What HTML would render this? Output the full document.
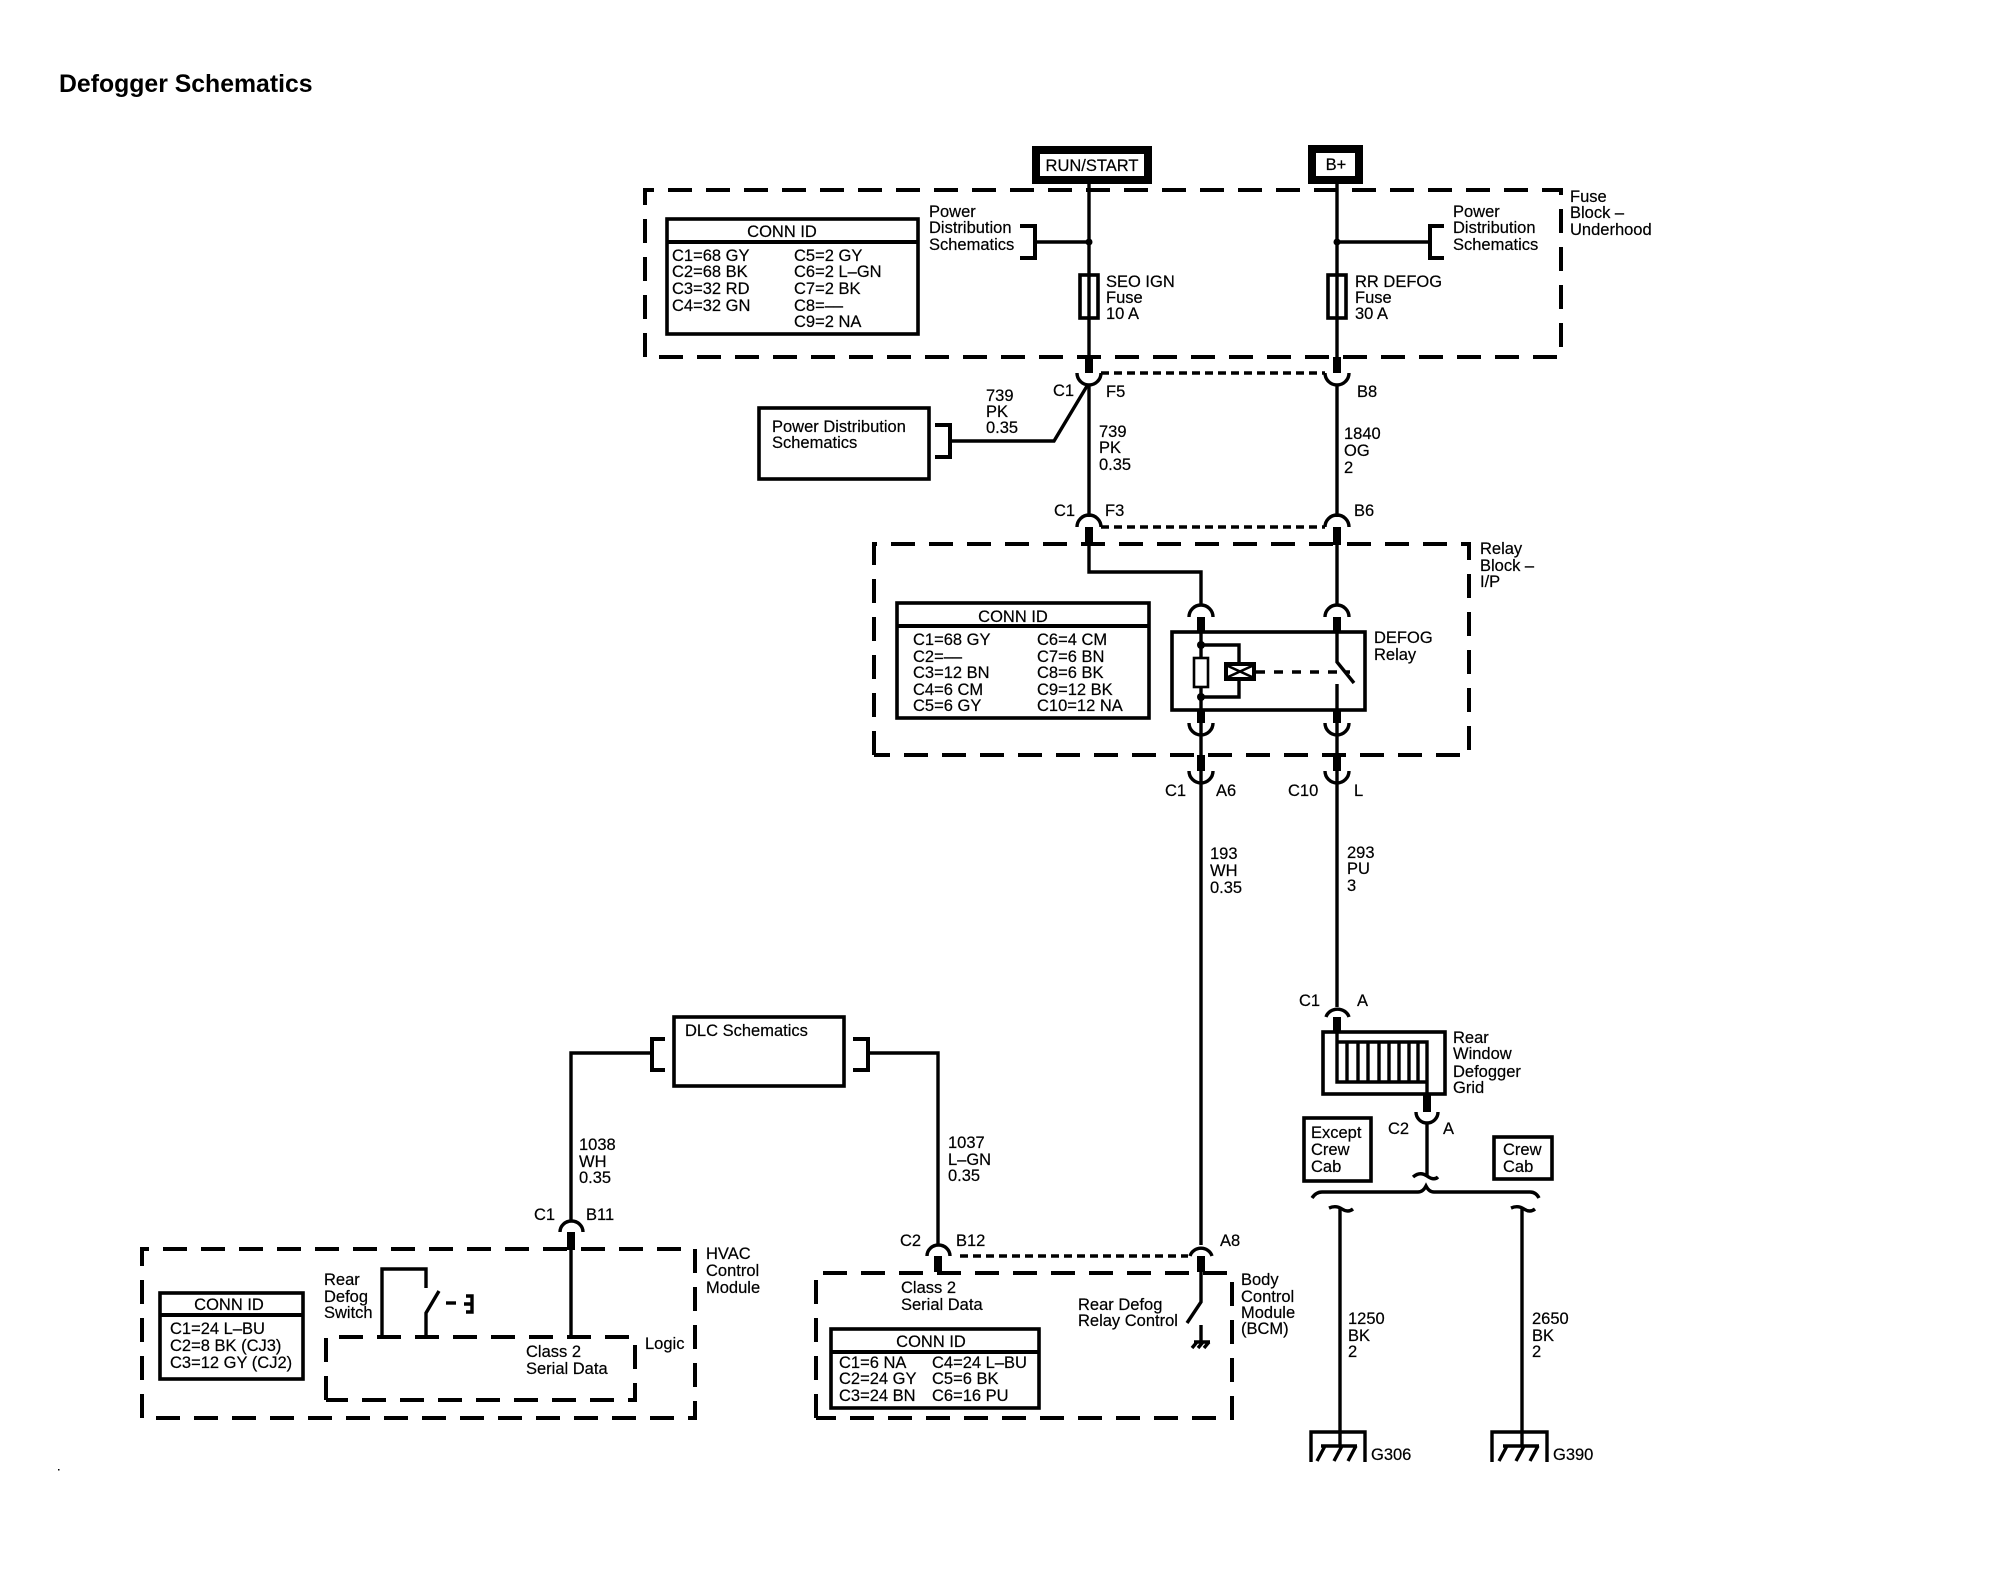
<!DOCTYPE html>
<html><head><meta charset="utf-8"><title>Defogger Schematics</title>
<style>
html,body{margin:0;padding:0;background:#fff}
svg{display:block}
text{font-family:"Liberation Sans",sans-serif;font-size:16.5px;fill:#000;stroke:#000;stroke-width:.2}
.c{text-anchor:middle}
.w{fill:none;stroke:#000;stroke-width:3.4}
.t{fill:none;stroke:#000;stroke-width:8}
.b{fill:#fff;stroke:#000;stroke-width:3.6}
.d{fill:none;stroke:#000;stroke-width:4;stroke-dasharray:24 14}
.o{fill:none;stroke:#000;stroke-width:3.4;stroke-dasharray:8 5}
.a{fill:none;stroke:#000;stroke-width:3.4}
</style></head><body>
<svg width="2000" height="1584" viewBox="0 0 2000 1584" xmlns="http://www.w3.org/2000/svg">
<rect width="2000" height="1584" fill="#fff"/>
<text x="59" y="92" style="font-size:24.8px;font-weight:bold;stroke-width:0">Defogger Schematics</text>
<rect x="58" y="1469" width="1.5" height="1.5" fill="#000"/>

<!-- dashed containers -->
<path class="d" d="M645 357V190H1561V357H645"/>
<path class="d" d="M874 755V544H1469V755H874"/>
<path class="d" d="M142 1418V1249H695V1418H142"/>
<path class="d" d="M326 1400V1337H635V1400H326"/>
<path class="d" d="M816 1418V1273H1232V1418H816"/>

<!-- source boxes -->
<rect x="1036" y="150" width="112" height="30" fill="#fff" stroke="#000" stroke-width="8"/>
<rect x="1312" y="149" width="47" height="31" fill="#fff" stroke="#000" stroke-width="8"/>
<text class="c" x="1092" y="171">RUN/START</text>
<text class="c" x="1336" y="170">B+</text>

<!-- main wires -->
<path class="w" d="M1089 184V373M1337 184V373M1089 385V517M1337 385V517M1089 527V572H1201V605M1337 527V605"/>
<path class="t" d="M1089 357V373M1337 357V373M1089 527V545M1337 527V545"/>
<path class="o" d="M1101 373H1325M1101 527H1325"/>
<path class="a" d="M1077 373A12 12 0 0 0 1101 373M1325 373A12 12 0 0 0 1349 373M1077 527A12 12 0 0 1 1101 527M1325 527A12 12 0 0 1 1349 527"/>

<!-- fuse block contents -->
<path class="w" d="M1035 242H1089M1337 242H1429"/>
<path class="w" style="stroke-width:4" d="M1020 226H1035V258H1020M1444 226H1430V258H1444"/>
<circle cx="1089" cy="242" r="3.5"/><circle cx="1337" cy="242" r="3.5"/>
<rect class="b" x="1080" y="275" width="18" height="43"/>
<rect class="b" x="1328" y="275" width="18" height="43"/>
<path class="w" d="M1089 274V318M1337 274V318"/>
<rect class="b" x="667" y="219" width="251" height="115"/>
<path class="w" style="stroke-width:4" d="M667 242H918"/>
<text class="c" x="782" y="237">CONN ID</text>
<text x="672" y="261">C1=68 GY</text><text x="672" y="277">C2=68 BK</text><text x="672" y="294">C3=32 RD</text><text x="672" y="311">C4=32 GN</text>
<text x="794" y="261">C5=2 GY</text><text x="794" y="277">C6=2 L–GN</text><text x="794" y="294">C7=2 BK</text><text x="794" y="311">C8=––</text><text x="794" y="327">C9=2 NA</text>
<text x="929" y="217">Power</text><text x="929" y="233">Distribution</text><text x="929" y="250">Schematics</text>
<text x="1453" y="217">Power</text><text x="1453" y="233">Distribution</text><text x="1453" y="250">Schematics</text>
<text x="1570" y="202">Fuse</text><text x="1570" y="218">Block –</text><text x="1570" y="235">Underhood</text>
<text x="1106" y="287">SEO IGN</text><text x="1106" y="303">Fuse</text><text x="1106" y="319">10 A</text>
<text x="1355" y="287">RR DEFOG</text><text x="1355" y="303">Fuse</text><text x="1355" y="319">30 A</text>

<!-- connector labels upper -->
<text x="1053" y="396">C1</text><text x="1106" y="397">F5</text><text x="1357" y="397">B8</text>
<text x="1054" y="516">C1</text><text x="1105" y="516">F3</text><text x="1354" y="516">B6</text>
<text x="986" y="401">739</text><text x="986" y="417">PK</text><text x="986" y="433">0.35</text>
<text x="1099" y="437">739</text><text x="1099" y="453">PK</text><text x="1099" y="470">0.35</text>
<text x="1344" y="439">1840</text><text x="1344" y="456">OG</text><text x="1344" y="473">2</text>

<!-- power dist box -->
<rect class="b" x="759" y="408" width="170" height="71"/>
<text x="772" y="432">Power Distribution</text><text x="772" y="448">Schematics</text>
<path class="w" style="stroke-width:4" d="M935 425H950V457H935"/>
<path class="w" d="M950 441H1054L1087 386"/>

<!-- relay block -->
<rect class="b" x="897" y="603" width="252" height="115"/>
<path class="w" style="stroke-width:4" d="M897 626H1149"/>
<text class="c" x="1013" y="622">CONN ID</text>
<text x="913" y="645">C1=68 GY</text><text x="913" y="662">C2=––</text><text x="913" y="678">C3=12 BN</text><text x="913" y="695">C4=6 CM</text><text x="913" y="711">C5=6 GY</text>
<text x="1037" y="645">C6=4 CM</text><text x="1037" y="662">C7=6 BN</text><text x="1037" y="678">C8=6 BK</text><text x="1037" y="695">C9=12 BK</text><text x="1037" y="711">C10=12 NA</text>
<text x="1480" y="554">Relay</text><text x="1480" y="571">Block –</text><text x="1480" y="587">I/P</text>
<rect class="b" x="1172" y="632" width="193" height="78"/>
<text x="1374" y="643">DEFOG</text><text x="1374" y="660">Relay</text>
<path class="a" d="M1189 617A12 12 0 0 1 1213 617M1325 617A12 12 0 0 1 1349 617M1189 723A12 12 0 0 0 1213 723M1325 723A12 12 0 0 0 1349 723M1189 771A12 12 0 0 0 1213 771M1325 771A12 12 0 0 0 1349 771"/>
<path class="t" d="M1201 617V632M1337 617V632M1201 710V723M1337 710V723M1201 755V771M1337 755V771"/>
<path class="w" d="M1201 632V657M1201 687V710M1201 723V755M1337 723V755M1201 771V1245M1337 771V1007M1337 632V662L1354 683M1337 684V710"/>
<path class="w" d="M1201 645H1239V662M1201 697H1239V680"/>
<circle cx="1201" cy="645" r="4"/><circle cx="1201" cy="697" r="4"/>
<rect x="1194" y="658" width="14" height="29" fill="#fff" stroke="#000" stroke-width="2.6"/>
<rect x="1226" y="664" width="28" height="15" fill="#fff" stroke="#000" stroke-width="4"/>
<path d="M1228 666L1252 677M1252 666L1228 677" stroke="#000" stroke-width="2.6"/>
<path d="M1256 672H1350" fill="none" stroke="#000" stroke-width="3.6" stroke-dasharray="9 9"/>

<text x="1165" y="796">C1</text><text x="1216" y="796">A6</text><text x="1288" y="796">C10</text><text x="1354" y="796">L</text>
<text x="1210" y="859">193</text><text x="1210" y="876">WH</text><text x="1210" y="893">0.35</text>
<text x="1347" y="858">293</text><text x="1347" y="874">PU</text><text x="1347" y="891">3</text>

<!-- rear window grid -->
<text x="1299" y="1006">C1</text><text x="1357" y="1006">A</text>
<path class="a" d="M1326 1017A12 11 0 0 1 1349 1017"/>
<path class="t" d="M1337 1017V1032"/>
<rect class="b" x="1323" y="1032" width="122" height="62"/>
<path class="w" d="M1337 1032V1082H1427V1042H1337M1347 1042V1082M1358 1042V1082M1368 1042V1082M1379 1042V1082M1389 1042V1082M1399 1042V1082M1409 1042V1082M1418 1042V1082M1427 1082V1094"/>
<path class="t" d="M1427 1094V1112"/>
<path class="a" d="M1416 1112A11 11 0 0 0 1438 1112"/>
<path class="w" d="M1427 1122V1177"/>
<path class="a" d="M1413 1177Q1420 1171 1427 1176T1438 1177"/>
<text x="1453" y="1043">Rear</text><text x="1453" y="1059">Window</text><text x="1453" y="1077">Defogger</text><text x="1453" y="1093">Grid</text>
<text x="1388" y="1134">C2</text><text x="1443" y="1134">A</text>
<rect class="b" x="1304" y="1118" width="67" height="63"/>
<text x="1311" y="1138">Except</text><text x="1311" y="1155">Crew</text><text x="1311" y="1172">Cab</text>
<rect class="b" x="1494" y="1137" width="58" height="42"/>
<text x="1503" y="1155">Crew</text><text x="1503" y="1172">Cab</text>
<path class="a" d="M1312 1198Q1316 1192 1322 1192H1418Q1423 1192 1426 1186Q1429 1192 1434 1192H1530Q1536 1192 1539 1198"/>
<path class="a" d="M1329 1208Q1336 1205 1342 1209T1353 1209M1511 1208Q1518 1205 1524 1209T1535 1209"/>
<path class="w" d="M1340 1207V1446M1522 1207V1446"/>
<text x="1348" y="1324">1250</text><text x="1348" y="1341">BK</text><text x="1348" y="1357">2</text>
<text x="1532" y="1324">2650</text><text x="1532" y="1341">BK</text><text x="1532" y="1357">2</text>
<path class="w" d="M1311 1462V1432H1365V1462M1492 1462V1432H1547V1462"/>
<path class="w" d="M1321 1446H1357M1325 1446L1317 1461M1342 1446L1334 1461M1356 1446L1348 1461M1503 1446H1539M1507 1446L1499 1461M1524 1446L1516 1461M1538 1446L1530 1461"/>
<text x="1371" y="1460">G306</text><text x="1553" y="1460">G390</text>

<!-- DLC -->
<rect class="b" x="674" y="1017" width="170" height="69"/>
<text x="685" y="1036">DLC Schematics</text>
<path class="w" style="stroke-width:4" d="M665 1039H652V1070H665M853 1039H868V1070H853"/>
<path class="w" d="M652 1053H571V1222M868 1053H938V1245"/>
<text x="579" y="1150">1038</text><text x="579" y="1167">WH</text><text x="579" y="1183">0.35</text>
<text x="948" y="1148">1037</text><text x="948" y="1165">L–GN</text><text x="948" y="1181">0.35</text>
<text x="534" y="1220">C1</text><text x="586" y="1220">B11</text>
<path class="a" d="M560 1232A11.500 11 0 0 1 583 1232"/>
<path class="t" d="M571 1232V1250"/>
<path class="w" d="M571 1250V1337"/>

<!-- HVAC -->
<text x="706" y="1259">HVAC</text><text x="706" y="1276">Control</text><text x="706" y="1293">Module</text>
<rect class="b" x="160" y="1293" width="143" height="86"/>
<path class="w" style="stroke-width:4" d="M160 1315H303"/>
<text class="c" x="229" y="1310">CONN ID</text>
<text x="170" y="1334">C1=24 L–BU</text><text x="170" y="1351">C2=8 BK (CJ3)</text><text x="170" y="1368">C3=12 GY (CJ2)</text>
<text x="324" y="1285">Rear</text><text x="324" y="1302">Defog</text><text x="324" y="1318">Switch</text>
<path class="w" d="M382 1337V1269H426V1288M426 1337V1313L439 1291"/>
<path class="w" d="M446 1303H456"/>
<path d="M466 1296H472V1312H466M464 1304H472" fill="none" stroke="#000" stroke-width="3.4"/>
<text x="526" y="1357">Class 2</text><text x="526" y="1374">Serial Data</text>
<text x="645" y="1349">Logic</text>

<!-- BCM -->
<text x="900" y="1246">C2</text><text x="956" y="1246">B12</text><text x="1220" y="1246">A8</text>
<path class="a" d="M927 1256A11.500 11 0 0 1 950 1256M1190 1256A11.500 11 0 0 1 1212 1256"/>
<path class="o" d="M960 1256H1188"/>
<path class="t" d="M938 1256V1272M1201 1256V1272"/>
<path class="w" d="M1201 1272V1302L1187 1323M1201 1325V1343M1194 1342H1210M1197 1342L1192 1348M1203 1342L1198 1348M1209 1342L1204 1348"/>
<text x="901" y="1293">Class 2</text><text x="901" y="1310">Serial Data</text>
<text x="1078" y="1310">Rear Defog</text><text x="1078" y="1326">Relay Control</text>
<text x="1241" y="1285">Body</text><text x="1241" y="1302">Control</text><text x="1241" y="1318">Module</text><text x="1241" y="1334">(BCM)</text>
<rect class="b" x="831" y="1329" width="208" height="79"/>
<path class="w" style="stroke-width:4" d="M831 1352H1039"/>
<text class="c" x="931" y="1347">CONN ID</text>
<text x="839" y="1368">C1=6 NA</text><text x="839" y="1384">C2=24 GY</text><text x="839" y="1401">C3=24 BN</text>
<text x="932" y="1368">C4=24 L–BU</text><text x="932" y="1384">C5=6 BK</text><text x="932" y="1401">C6=16 PU</text>
</svg>
</body></html>
